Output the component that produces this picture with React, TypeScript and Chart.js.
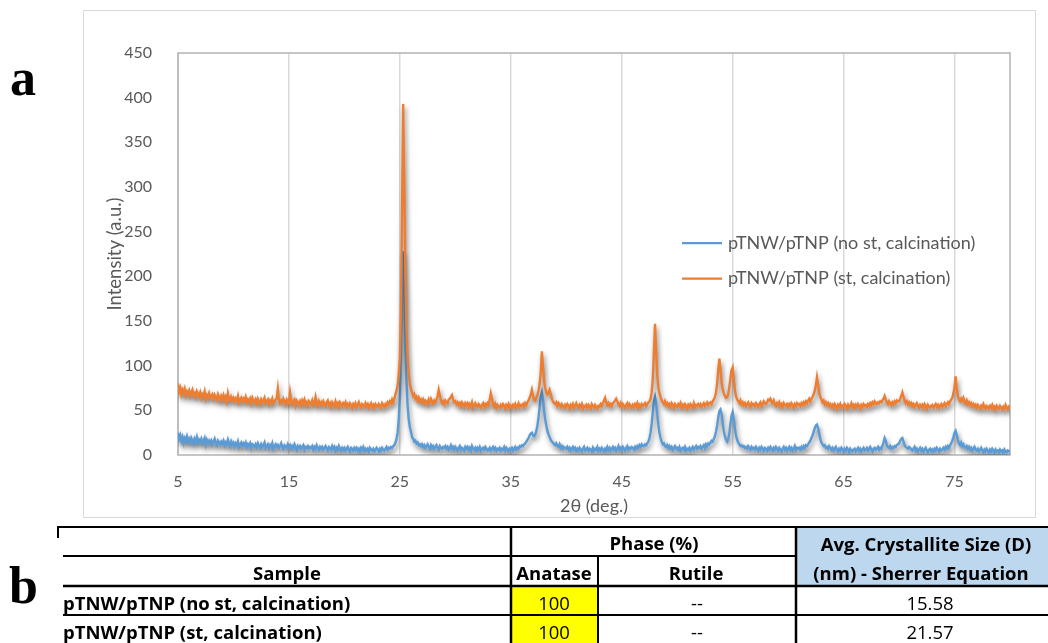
import { useEffect, useRef } from "react";
import { Chart, registerables } from "chart.js";

Chart.register(...registerables);

// ---- XRD patterns: one row per whole degree of 2θ, samples every 0.1° (x.0 … x.9) ----
const THETA_START = 5;
const THETA_STEP = 0.1;

// pTNW/pTNP (no st, calcination)
const noStRows: number[][] = [
  [25, 18, 22, 16, 20, 14, 19, 17, 21, 15],
  [18, 14, 19, 16, 13, 18, 15, 20, 14, 17],
  [15, 18, 13, 16, 19, 12, 17, 14, 16, 13],
  [16, 12, 15, 18, 13, 11, 16, 14, 12, 15],
  [13, 16, 11, 14, 12, 17, 13, 10, 15, 12],
  [14, 10, 13, 11, 15, 9, 12, 14, 10, 13],
  [11, 14, 9, 12, 10, 13, 8, 12, 11, 9],
  [12, 9, 13, 10, 8, 12, 9, 11, 14, 8],
  [10, 12, 8, 11, 9, 13, 7, 10, 12, 9],
  [11, 8, 10, 13, 9, 7, 11, 10, 8, 12],
  [9, 11, 7, 10, 8, 12, 9, 6, 10, 8],
  [10, 7, 9, 11, 6, 9, 8, 10, 7, 9],
  [8, 10, 6, 9, 7, 11, 8, 6, 9, 7],
  [9, 6, 8, 10, 7, 5, 9, 8, 6, 10],
  [7, 9, 5, 8, 6, 10, 7, 5, 8, 6],
  [8, 5, 7, 9, 6, 4, 8, 7, 5, 8],
  [6, 8, 5, 7, 4, 8, 6, 9, 5, 7],
  [5, 7, 4, 8, 6, 5, 7, 4, 6, 8],
  [6, 4, 7, 5, 8, 6, 5, 7, 9, 6],
  [8, 7, 9, 8, 10, 11, 14, 18, 25, 40],
  [65, 110, 180, 228, 190, 125, 80, 55, 40, 31],
  [26, 20, 18, 15, 16, 13, 14, 11, 12, 10],
  [12, 9, 11, 8, 10, 12, 9, 7, 11, 8],
  [10, 7, 9, 11, 8, 6, 10, 8, 7, 9],
  [8, 10, 7, 9, 6, 8, 11, 7, 9, 6],
  [9, 7, 5, 8, 10, 6, 8, 7, 5, 9],
  [7, 9, 6, 8, 5, 10, 7, 6, 8, 5],
  [8, 6, 9, 5, 7, 8, 6, 9, 7, 5],
  [6, 8, 5, 7, 9, 6, 8, 5, 7, 6],
  [8, 5, 7, 6, 9, 5, 8, 6, 4, 7],
  [6, 8, 5, 7, 9, 6, 8, 7, 10, 9],
  [11, 10, 12, 13, 15, 17, 19, 22, 24, 25],
  [22, 21, 23, 27, 33, 42, 54, 65, 70, 62],
  [50, 40, 33, 27, 23, 20, 17, 15, 14, 12],
  [11, 13, 10, 9, 12, 8, 10, 7, 9, 8],
  [7, 9, 6, 8, 5, 7, 9, 6, 8, 5],
  [7, 5, 8, 6, 4, 7, 9, 5, 6, 8],
  [5, 7, 6, 4, 8, 5, 7, 6, 9, 5],
  [7, 5, 8, 6, 4, 7, 5, 9, 6, 8],
  [5, 7, 9, 6, 8, 5, 7, 10, 6, 8],
  [6, 9, 7, 5, 8, 10, 6, 8, 7, 9],
  [8, 6, 9, 7, 10, 8, 11, 9, 12, 10],
  [10, 12, 11, 13, 15, 19, 25, 35, 48, 60],
  [65, 58, 46, 34, 25, 19, 15, 12, 13, 10],
  [9, 11, 8, 10, 7, 9, 6, 8, 10, 7],
  [8, 6, 9, 5, 7, 8, 6, 9, 5, 7],
  [6, 8, 5, 7, 9, 6, 8, 10, 7, 9],
  [8, 10, 7, 9, 11, 8, 12, 10, 13, 12],
  [14, 16, 15, 18, 21, 26, 33, 42, 49, 51],
  [46, 36, 27, 21, 17, 15, 18, 24, 35, 44],
  [48, 40, 30, 22, 17, 14, 12, 10, 11, 9],
  [10, 8, 9, 7, 10, 8, 6, 9, 7, 8],
  [6, 9, 7, 5, 8, 6, 9, 7, 5, 8],
  [7, 5, 8, 6, 9, 7, 5, 8, 6, 9],
  [7, 5, 8, 6, 4, 7, 9, 6, 8, 5],
  [7, 9, 6, 8, 5, 7, 10, 6, 8, 7],
  [8, 6, 9, 7, 10, 8, 11, 10, 12, 14],
  [16, 19, 22, 26, 30, 33, 34, 30, 24, 18],
  [14, 12, 10, 11, 8, 9, 7, 10, 8, 6],
  [8, 5, 7, 9, 6, 4, 7, 5, 8, 6],
  [4, 7, 5, 8, 6, 3, 7, 5, 4, 6],
  [7, 4, 6, 8, 5, 7, 4, 6, 8, 5],
  [6, 8, 5, 7, 9, 6, 4, 7, 8, 6],
  [7, 9, 6, 8, 7, 10, 14, 19, 16, 11],
  [9, 8, 10, 7, 9, 8, 10, 9, 11, 12],
  [13, 16, 18, 19, 15, 11, 9, 8, 7, 9],
  [8, 6, 5, 7, 9, 5, 7, 4, 6, 8],
  [5, 7, 4, 6, 8, 5, 3, 6, 7, 4],
  [6, 4, 7, 5, 8, 6, 4, 7, 5, 6],
  [8, 6, 9, 7, 10, 8, 11, 13, 16, 20],
  [25, 27, 22, 17, 13, 11, 14, 10, 12, 9],
  [8, 10, 7, 9, 6, 8, 5, 7, 9, 6],
  [5, 7, 4, 6, 8, 5, 3, 6, 4, 7],
  [5, 3, 6, 4, 7, 5, 2, 6, 4, 5],
  [3, 6, 4, 5, 2, 6, 4, 3, 5, 4],
  [4],
];

// pTNW/pTNP (st, calcination)
const stRows: number[][] = [
  [80, 71, 75, 68, 73, 70, 74, 67, 71, 69],
  [72, 66, 70, 73, 67, 69, 65, 71, 68, 66],
  [70, 64, 68, 66, 71, 63, 67, 65, 69, 64],
  [66, 68, 63, 67, 64, 62, 68, 65, 61, 66],
  [63, 67, 62, 65, 60, 69, 63, 61, 65, 62],
  [64, 60, 63, 61, 66, 59, 62, 64, 60, 63],
  [61, 65, 59, 62, 60, 63, 58, 64, 61, 59],
  [62, 58, 63, 60, 57, 62, 59, 61, 64, 58],
  [60, 62, 57, 61, 59, 63, 58, 60, 62, 63],
  [74, 62, 58, 61, 59, 63, 60, 57, 62, 60],
  [58, 70, 61, 57, 60, 62, 56, 61, 59, 57],
  [60, 56, 61, 58, 62, 57, 59, 55, 60, 58],
  [57, 61, 56, 59, 65, 58, 55, 60, 57, 59],
  [56, 60, 57, 55, 59, 61, 56, 58, 54, 59],
  [57, 55, 60, 56, 58, 54, 59, 57, 55, 58],
  [56, 59, 54, 57, 55, 58, 56, 53, 57, 55],
  [58, 54, 56, 59, 55, 53, 57, 56, 54, 58],
  [55, 57, 53, 56, 58, 54, 56, 53, 57, 55],
  [54, 57, 55, 53, 58, 56, 54, 57, 55, 59],
  [57, 60, 58, 62, 59, 63, 68, 72, 78, 90],
  [110, 160, 280, 393, 300, 200, 140, 108, 90, 80],
  [74, 70, 66, 68, 63, 65, 61, 64, 60, 62],
  [59, 62, 58, 61, 60, 57, 62, 59, 63, 60],
  [58, 61, 59, 62, 66, 73, 67, 61, 58, 60],
  [57, 61, 59, 58, 62, 63, 65, 67, 62, 59],
  [60, 57, 59, 56, 58, 55, 59, 57, 54, 58],
  [56, 58, 54, 57, 55, 59, 53, 56, 58, 55],
  [54, 57, 55, 53, 56, 58, 54, 57, 55, 58],
  [56, 62, 69, 63, 57, 54, 57, 53, 56, 54],
  [53, 56, 54, 57, 55, 52, 56, 54, 57, 53],
  [55, 53, 56, 54, 57, 53, 55, 58, 54, 56],
  [55, 57, 54, 58, 56, 59, 61, 64, 68, 73],
  [66, 62, 61, 64, 67, 72, 80, 92, 116, 100],
  [84, 75, 70, 68, 70, 73, 68, 63, 60, 58],
  [57, 59, 55, 58, 56, 54, 57, 55, 53, 56],
  [54, 57, 55, 52, 56, 54, 57, 53, 55, 58],
  [55, 53, 56, 54, 57, 52, 55, 54, 56, 53],
  [56, 54, 52, 57, 55, 53, 56, 54, 52, 55],
  [54, 57, 55, 58, 61, 64, 59, 56, 58, 55],
  [57, 55, 58, 59, 61, 63, 60, 57, 55, 58],
  [54, 57, 55, 53, 56, 58, 54, 57, 55, 53],
  [56, 54, 57, 55, 58, 53, 56, 54, 57, 55],
  [56, 58, 55, 57, 59, 60, 63, 70, 85, 115],
  [147, 118, 90, 76, 69, 65, 61, 59, 57, 60],
  [56, 58, 55, 57, 54, 58, 56, 53, 57, 55],
  [54, 57, 55, 58, 53, 56, 54, 57, 55, 52],
  [56, 54, 57, 55, 53, 58, 54, 56, 55, 57],
  [55, 57, 54, 56, 58, 55, 57, 59, 56, 58],
  [59, 57, 60, 62, 65, 70, 80, 95, 108, 96],
  [82, 74, 69, 66, 64, 65, 68, 76, 86, 95],
  [98, 85, 73, 66, 62, 60, 58, 61, 57, 59],
  [56, 58, 55, 57, 59, 56, 54, 58, 56, 57],
  [55, 58, 56, 54, 57, 59, 55, 57, 60, 58],
  [57, 59, 62, 61, 63, 60, 58, 61, 57, 55],
  [58, 56, 59, 55, 57, 54, 58, 56, 55, 57],
  [54, 57, 55, 58, 56, 53, 57, 55, 58, 56],
  [57, 55, 58, 56, 59, 57, 60, 58, 61, 63],
  [60, 63, 65, 68, 72, 78, 87, 79, 70, 65],
  [62, 59, 61, 57, 59, 56, 58, 55, 57, 54],
  [56, 53, 57, 55, 52, 56, 54, 57, 53, 55],
  [54, 57, 55, 52, 56, 53, 55, 58, 54, 56],
  [53, 56, 54, 57, 55, 52, 56, 54, 57, 55],
  [56, 54, 57, 55, 58, 56, 59, 57, 60, 58],
  [57, 59, 58, 60, 59, 61, 63, 66, 62, 59],
  [57, 60, 58, 56, 59, 57, 60, 58, 61, 60],
  [60, 63, 66, 70, 65, 61, 58, 60, 57, 59],
  [56, 58, 55, 57, 54, 56, 58, 55, 53, 56],
  [54, 56, 53, 57, 55, 52, 56, 54, 53, 55],
  [56, 53, 55, 57, 54, 56, 53, 55, 57, 54],
  [56, 58, 55, 57, 59, 57, 60, 62, 64, 69],
  [76, 88, 74, 66, 62, 60, 63, 61, 64, 60],
  [58, 61, 57, 59, 56, 58, 55, 57, 54, 56],
  [53, 56, 54, 52, 55, 53, 57, 54, 52, 55],
  [54, 52, 55, 53, 56, 52, 54, 51, 55, 53],
  [52, 55, 53, 51, 54, 52, 56, 53, 51, 54],
  [53],
];

const seriesLabels = ["pTNW/pTNP (no st, calcination)", "pTNW/pTNP (st, calcination)"];
const seriesColors = ["#5b9bd5", "#ed7d31"];
const xTickValues = [5, 15, 25, 35, 45, 55, 65, 75];
const xRange = [5, 80];
const yRange = [0, 450];
const yTickStep = 50;
const xTitle = "2θ (deg.)";
const yTitle = "Intensity (a.u.)";

// ---- summary table ----
const phaseHeader = "Phase (%)";
const sizeHeader = ["Avg. Crystallite Size (D)", "(nm) - Sherrer Equation"];
const columnHeaders = ["Sample", "Anatase", "Rutile"];
const sampleNames = ["pTNW/pTNP (no st, calcination)", "pTNW/pTNP (st, calcination)"];
const anatasePct = ["100", "100"];
const rutilePct = ["--", "--"];
const crystalliteNm = ["15.58", "21.57"];

const FONT = "Lato, 'Open Sans', 'DejaVu Sans', sans-serif";
const TABLE_FONT = "'Open Sans', Lato, sans-serif";
const TEXT_GREY = "#595959";

function toPoints(rows: number[][]) {
  const pts: { x: number; y: number }[] = [];
  rows.forEach((row, k) => {
    row.forEach((v, j) => {
      pts.push({ x: Math.round((THETA_START + k + j * THETA_STEP) * 10) / 10, y: v });
    });
  });
  return pts;
}

// grey frame around the plotting area
const plotFrame = {
  id: "plotFrame",
  beforeDatasetsDraw(chart: any) {
    const { ctx, chartArea: a } = chart;
    ctx.save();
    ctx.strokeStyle = "#b3b3b3";
    ctx.lineWidth = 1.5;
    ctx.strokeRect(a.left, a.top, a.right - a.left, a.bottom - a.top);
    ctx.restore();
  },
};

// soft drop shadow under each trace
const lineShadow = {
  id: "lineShadow",
  beforeDatasetDraw(chart: any) {
    const ctx = chart.ctx;
    ctx.save();
    ctx.shadowColor = "rgba(0,0,0,0.5)";
    ctx.shadowBlur = 5;
    ctx.shadowOffsetX = 1.5;
    ctx.shadowOffsetY = 3.5;
  },
  afterDatasetDraw(chart: any) {
    chart.ctx.restore();
  },
};

// legend drawn inside the plot area
const insideLegend = {
  id: "insideLegend",
  afterDatasetsDraw(chart: any, _args: any, opts: any) {
    const { ctx, chartArea } = chart;
    ctx.save();
    chart.data.datasets.forEach((ds: any, i: number) => {
      const x = chartArea.left + opts.left;
      const y = chartArea.top + opts.top + i * opts.gap;
      ctx.strokeStyle = ds.borderColor;
      ctx.lineWidth = 2.25;
      ctx.beginPath();
      ctx.moveTo(x, y);
      ctx.lineTo(x + opts.lineLength, y);
      ctx.stroke();
      ctx.fillStyle = TEXT_GREY;
      ctx.font = `18px ${FONT}`;
      ctx.textBaseline = "middle";
      ctx.textAlign = "left";
      ctx.fillText(ds.label, x + opts.lineLength + opts.textGap, y);
    });
    ctx.restore();
  },
};

export default function App() {
  const canvasRef = useRef<HTMLCanvasElement>(null);

  useEffect(() => {
    const canvas = canvasRef.current;
    if (!canvas) return;
    const chart = new Chart(canvas, {
      type: "line",
      data: {
        datasets: [
          {
            label: seriesLabels[0],
            data: toPoints(noStRows),
            borderColor: seriesColors[0],
            backgroundColor: seriesColors[0],
            order: 1,
          },
          {
            label: seriesLabels[1],
            data: toPoints(stRows),
            borderColor: seriesColors[1],
            backgroundColor: seriesColors[1],
            order: 0,
          },
        ],
      },
      options: {
        responsive: false,
        animation: false,
        devicePixelRatio: 1,
        parsing: false,
        normalized: true,
        layout: { padding: { top: 42, right: 25, left: 0, bottom: 0 } },
        elements: {
          point: { radius: 0, hoverRadius: 0 },
          line: { borderWidth: 2.4, tension: 0 },
        },
        plugins: {
          legend: { display: false },
          tooltip: { enabled: false },
          insideLegend: { left: 504, top: 190, gap: 35.5, lineLength: 40, textGap: 6 },
        } as any,
        scales: {
          x: {
            type: "linear",
            min: xRange[0],
            max: xRange[1],
            afterBuildTicks: (s: any) => {
              s.ticks = xTickValues.map((value) => ({ value }));
            },
            afterFit: (s: any) => {
              s.height = 62;
            },
            grid: { color: "#d9d9d9", lineWidth: 1.5, drawTicks: false },
            border: { display: false },
            ticks: {
              color: TEXT_GREY,
              font: { family: FONT, size: 16 },
              padding: 17,
              autoSkip: false,
              maxRotation: 0,
            },
            title: {
              display: true,
              text: xTitle,
              color: TEXT_GREY,
              font: { family: FONT, size: 18 },
              padding: { top: 0, bottom: 0 },
            },
          },
          y: {
            type: "linear",
            min: yRange[0],
            max: yRange[1],
            afterFit: (s: any) => {
              s.width = 94;
            },
            grid: { display: false },
            border: { display: false },
            ticks: {
              stepSize: yTickStep,
              color: TEXT_GREY,
              font: { family: FONT, size: 16 },
              padding: 18,
            },
            title: {
              display: true,
              text: yTitle,
              color: TEXT_GREY,
              font: { family: FONT, size: 18.5 },
              padding: { top: 20, bottom: 0 },
            },
          },
        },
      } as any,
      plugins: [plotFrame, lineShadow, insideLegend],
    });
    return () => chart.destroy();
  }, []);

  const rowY = [602, 631];
  const tableFont = { fontFamily: TABLE_FONT, fontSize: 18.5, fill: "#000" } as const;

  return (
    <div
      style={{
        position: "absolute",
        left: 0,
        top: 0,
        width: 1048,
        height: 643,
        overflow: "hidden",
        background: "#fff",
      }}
    >
      <div
        style={{
          position: "absolute",
          left: 83,
          top: 10,
          width: 953,
          height: 508,
          boxSizing: "border-box",
          border: "1px solid #d9d9d9",
          background: "#fff",
        }}
      >
        <canvas ref={canvasRef} width={951} height={506} style={{ display: "block", width: 951, height: 506 }} />
      </div>

      <svg
        width={1048}
        height={643}
        style={{ position: "absolute", left: 0, top: 0, pointerEvents: "none" }}
      >
        <text x={10} y={95} style={{ fontFamily: "'Liberation Serif', serif", fontWeight: 700, fontSize: 52 }}>
          a
        </text>
        <text x={9} y={603} style={{ fontFamily: "'Liberation Serif', serif", fontWeight: 700, fontSize: 52 }}>
          b
        </text>

        {/* table cell fills */}
        <rect x={797} y={528} width={251} height={57} fill="#bdd7ee" />
        <rect x={512} y={587} width={85} height={27} fill="#ffff00" />
        <rect x={512} y={616} width={85} height={27} fill="#ffff00" />

        {/* table rules */}
        <g stroke="#000" strokeWidth={2}>
          <line x1={57} y1={527} x2={1048} y2={527} />
          <line x1={58} y1={527} x2={58} y2={538} />
          <line x1={63} y1={556} x2={797} y2={556} />
          <line x1={63} y1={586} x2={1048} y2={586} strokeWidth={2.5} />
          <line x1={63} y1={615} x2={1048} y2={615} />
          <line x1={511} y1={527} x2={511} y2={643} strokeWidth={2.5} />
          <line x1={598} y1={556} x2={598} y2={643} />
          <line x1={796} y1={527} x2={796} y2={643} strokeWidth={2.5} />
        </g>

        <g style={{ ...tableFont, fontWeight: 700 }} textAnchor="middle" dominantBaseline="central">
          <text x={654} y={542}>{phaseHeader}</text>
          <text x={926} y={543}>{sizeHeader[0]}</text>
          <text x={921} y={572}>{sizeHeader[1]}</text>
          <text x={287} y={572}>{columnHeaders[0]}</text>
          <text x={554} y={572}>{columnHeaders[1]}</text>
          <text x={696} y={572}>{columnHeaders[2]}</text>
        </g>

        {sampleNames.map((name, i) => (
          <g key={name} style={tableFont} dominantBaseline="central">
            <text x={63} y={rowY[i]} style={{ fontWeight: 700 }}>{name}</text>
            <text x={554} y={rowY[i]} textAnchor="middle">{anatasePct[i]}</text>
            <text x={697} y={rowY[i]} textAnchor="middle">{rutilePct[i]}</text>
            <text x={930} y={rowY[i]} textAnchor="middle">{crystalliteNm[i]}</text>
          </g>
        ))}
      </svg>
    </div>
  );
}
